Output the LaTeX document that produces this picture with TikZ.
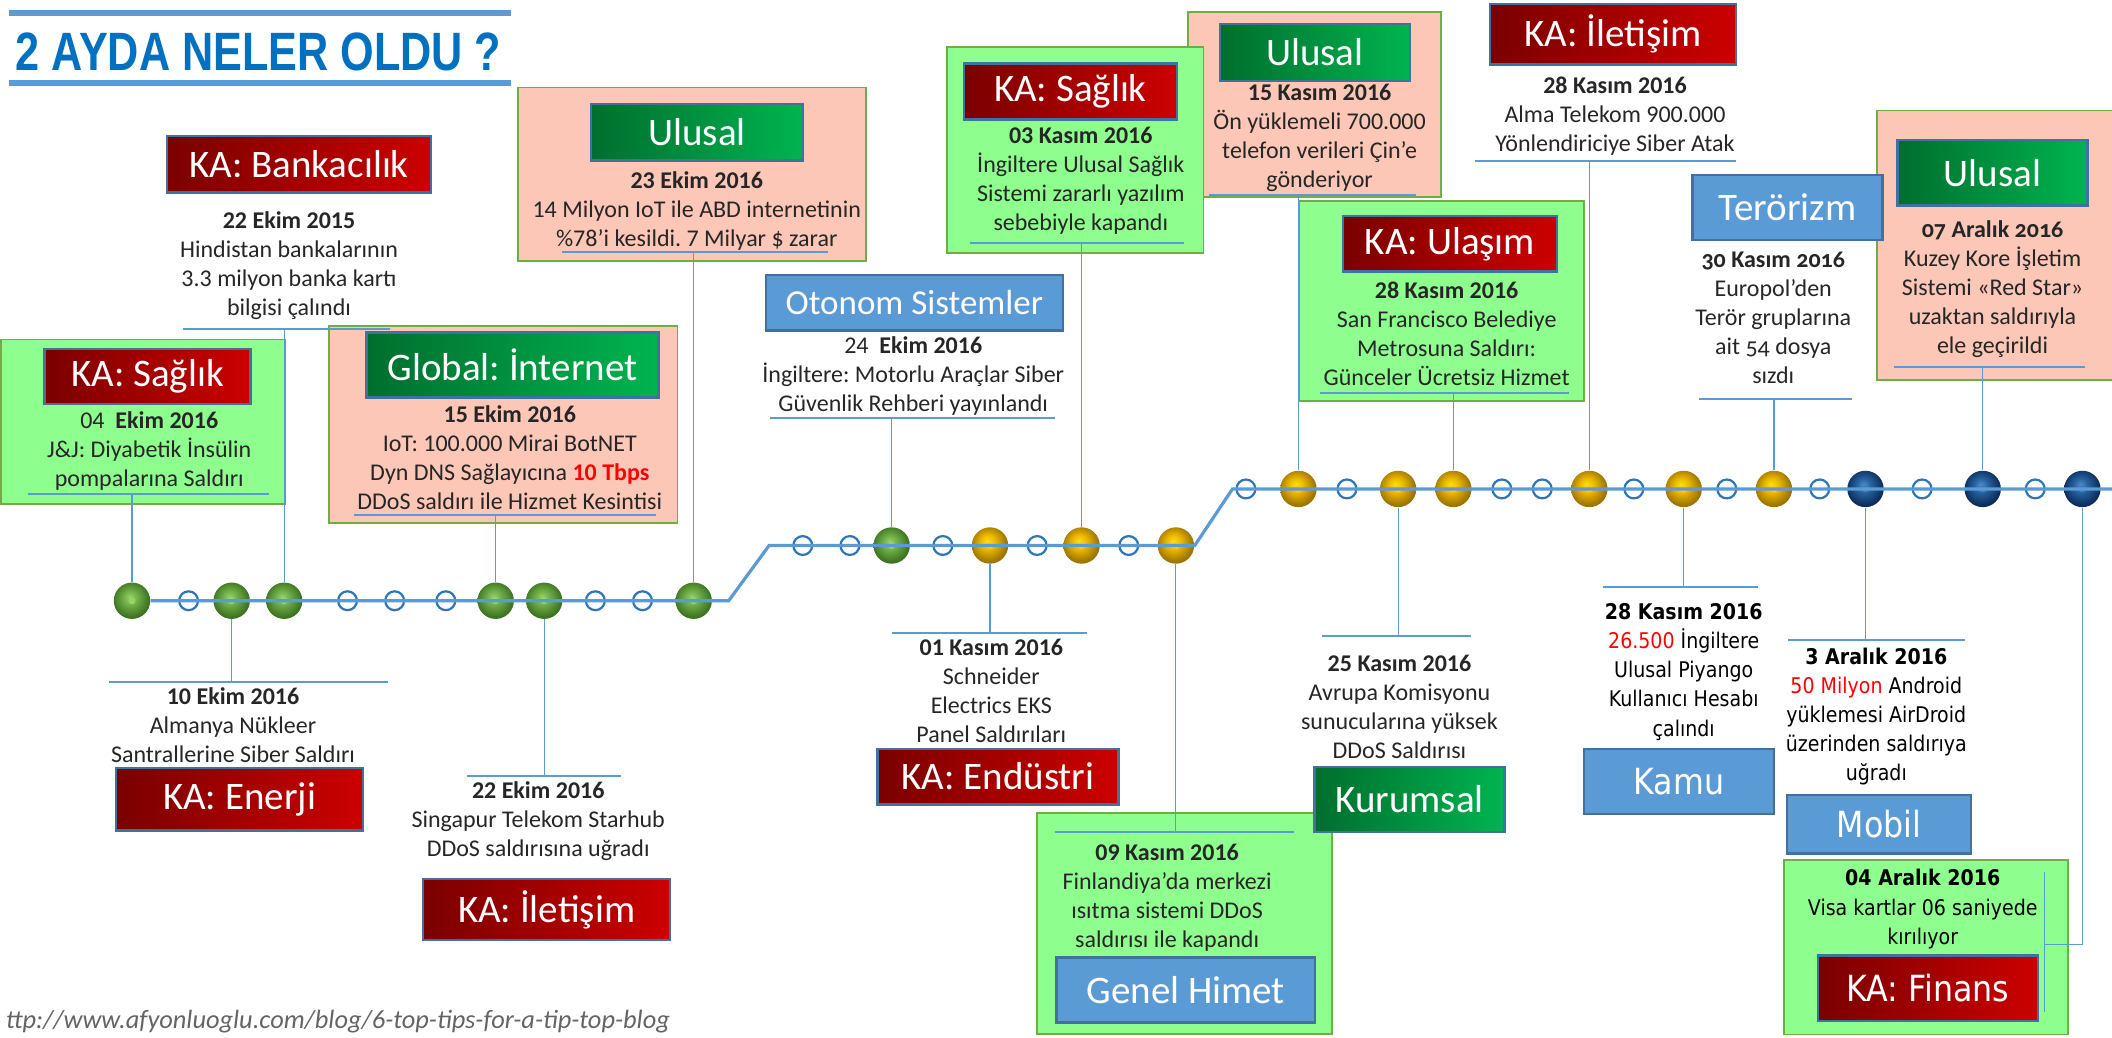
\documentclass[tikz,border=0pt]{standalone}
\usepackage{fontspec}
\setmainfont{Carlito}
\newfontfamily\titlefont[FakeStretch=0.8]{Liberation Sans}
\newfontfamily\tahfont[FakeStretch=0.88]{DejaVu Sans}
\newfontfamily\candfont[Numbers=OldStyle]{Carlito}
\usetikzlibrary{fit}
\frenchspacing

\definecolor{tlblue}{RGB}{91,155,213}
\definecolor{ringblue}{RGB}{46,117,182}
\definecolor{labedge}{RGB}{65,113,156}
\definecolor{kadark}{RGB}{122,0,0}
\definecolor{kalight}{RGB}{204,0,0}
\definecolor{gldark}{RGB}{0,110,46}
\definecolor{gllight}{RGB}{0,180,80}
\definecolor{lightgreen}{RGB}{142,255,142}
\definecolor{salmon}{RGB}{252,199,182}
\definecolor{boxedge}{RGB}{112,173,71}
\definecolor{bodytext}{RGB}{38,38,38}
\definecolor{titleblue}{RGB}{0,112,192}
\definecolor{urlgray}{RGB}{100,100,100}
\definecolor{gdot}{RGB}{150,210,100}
\definecolor{ydot}{RGB}{255,205,0}
\definecolor{bdot}{RGB}{70,120,180}

\pgfdeclareradialshading{greenball}{\pgfpoint{-3bp}{5bp}}{rgb(0bp)=(0.6,0.82,0.42); rgb(9bp)=(0.45,0.7,0.28); rgb(25bp)=(0.24,0.45,0.13); rgb(50bp)=(0.24,0.45,0.13)}
\pgfdeclareradialshading{goldball}{\pgfpoint{-4bp}{6bp}}{rgb(0bp)=(1,0.87,0.1); rgb(10bp)=(0.93,0.72,0); rgb(25bp)=(0.62,0.46,0); rgb(50bp)=(0.62,0.46,0)}
\pgfdeclareradialshading{blueball}{\pgfpoint{-3bp}{6bp}}{rgb(0bp)=(0.3,0.55,0.8); rgb(10bp)=(0.15,0.38,0.62); rgb(25bp)=(0.05,0.18,0.36); rgb(50bp)=(0.05,0.18,0.36)}

\newlength\pxl
\setlength\pxl{0.6735pt}

\tikzset{
  tline/.style={draw=tlblue, line width=1.6pt},
  conn/.style={draw=tlblue, line width=0.6pt},
  uline/.style={draw=tlblue, line width=1pt},
  titlerule/.style={draw=tlblue, line width=3pt},
  ball/.style 2 args={circle, inner sep=0pt, minimum size=27*\pxl, shade, shading=#1,
    path picture={\fill[#2] (path picture bounding box.center) circle (1.8pt);}},
  gb/.style={ball={greenball}{gdot}},
  yb/.style={ball={goldball}{ydot}},
  bb/.style={ball={blueball}{bdot}},
  hc/.style={circle, inner sep=0pt, minimum size=14*\pxl, draw=ringblue, line width=1.1pt, fill=white},
  card/.style={draw=boxedge, line width=0.9pt, inner sep=0pt},
  gbox/.style={card, fill=lightgreen},
  sbox/.style={card, fill=salmon},
  boxsize/.style 2 args={minimum width=#1*\pxl, minimum height=#2*\pxl},
  lab/.style={draw=labedge, line width=1.2pt, inner sep=0pt, text=white, font=\fontsize{19.5}{22}\selectfont},
  redlab/.style={lab, left color=kadark, right color=kalight},
  greenlab/.style={lab, left color=gldark, right color=gllight},
  bluelab/.style={lab, fill=tlblue},
  tahlab/.style={font=\tahfont\fontsize{18}{21}\selectfont},
  txt/.style={align=center, inner sep=0pt, text=bodytext, font=\fontsize{12}{14.5}\selectfont},
  candtxt/.style={txt, font=\candfont\fontsize{12}{14.5}\selectfont},
  tahtxt/.style={txt, text=black, font=\tahfont\fontsize{10.8}{14.6}\selectfont}
}

\begin{document}
\begin{tikzpicture}[x=\pxl, y=-\pxl]
\useasboundingbox (0,0) rectangle (1568,770);

\draw[titlerule] (6.6,9.7) -- (379.6,9.7);
\draw[titlerule] (6.6,61.3) -- (379.6,61.3);
\node[text=titleblue, anchor=base, inner sep=0pt, font=\titlefont\bfseries\fontsize{27}{30}\selectfont] (title) at (192,52) {2 AYDA NELER OLDU ?};

\node[gbox, fit={(1,252) (211.5,374)}] (b1) {};
\node[sbox, fit={(244.5,242) (503,388)}] (b3) {};
\node[sbox, fit={(384.7,65) (643.2,194)}] (b4) {};
\node[sbox, fit={(882,9.2) (1070,146.5)}] (b7) {};
\node[gbox, fit={(703.3,34.6) (893.5,188)}] (b6) {};
\node[gbox, fit={(964.8,149) (1176,298)}] (b8) {};
\node[sbox, fit={(1393.3,82) (1572,282)}] (b11) {};
\node[gbox, fit={(770,603.7) (989,767.5)}] (b15) {};
\node[gbox, fit={(1324.3,638.3) (1535.3,768)}] (bf) {};

\node[redlab, boxsize={153}{41}] (l1) at (109.5,279.5) {KA: Sağlık};
\node[redlab, boxsize={196}{42}] (l2) at (222,122) {KA: Bankacılık};
\node[greenlab, boxsize={217}{48}] (l3) at (380.5,271) {Global: İnternet};
\node[greenlab, boxsize={157.7}{41.9}] (l4) at (517.45,98.35) {Ulusal};
\node[bluelab, boxsize={220.3}{41.5}, font=\fontsize{17.5}{20}\selectfont] (l5) at (678.85,224.75) {Otonom Sistemler};
\node[redlab, boxsize={158.1}{41.6}] (l6) at (794.65,67.8) {KA: Sağlık};
\node[greenlab, boxsize={140.9}{42}] (l7) at (976.25,39) {Ulusal};
\node[redlab, boxsize={159}{41.3}] (l8) at (1076.5,181.05) {KA: Ulaşım};
\node[redlab, boxsize={183}{45}] (l9) at (1197.5,25.5) {KA: İletişim};
\node[bluelab, boxsize={141.1}{48}] (l10) at (1327.05,154) {Terörizm};
\node[greenlab, boxsize={141.2}{48.7}] (l11) at (1479.2,128.35) {Ulusal};
\node[redlab, boxsize={183.7}{46.7}] (l12) at (177.85,593.35) {KA: Enerji};
\node[redlab, boxsize={183.6}{45.4}] (l13) at (405.8,675.3) {KA: İletişim};
\node[redlab, boxsize={178.7}{41.3}] (l14) at (740.95,576.55) {KA: Endüstri};
\node[bluelab, boxsize={192}{48}] (l15) at (880.3,735) {Genel Himet};
\node[greenlab, boxsize={141}{48.3}] (l16) at (1046.5,593.55) {Kurumsal};
\node[bluelab, tahlab, boxsize={141.1}{48.2}] (lk) at (1246.45,580.3) {Kamu};
\node[bluelab, tahlab, boxsize={136.8}{43.6}] (lm) at (1395,611.8) {Mobil};
\node[redlab, tahlab, boxsize={163.2}{48.5}] (lf) at (1431.4,733.75) {KA: Finans};

\node[txt] (t1) at (110.8,334.5) {04\ \ \textbf{Ekim 2016}\\J\&J: Diyabetik İnsülin\\pompalarına Saldırı};
\node[txt] (t2) at (214.6,197.3) {\textbf{22 Ekim 2015}\\Hindistan bankalarının\\3.3 milyon banka kartı\\bilgisi çalındı};
\node[txt] (t3) at (378.5,340) {\textbf{15 Ekim 2016}\\IoT: 100.000 Mirai BotNET\\Dyn DNS Sağlayıcına \textcolor{red}{\textbf{10 Tbps}}\\DDoS saldırı ile Hizmet Kesintisi};
\node[txt] (t4) at (517.3,156.4) {\textbf{23 Ekim 2016}\\14 Milyon IoT ile ABD internetinin\\\%78’i kesildi. 7 Milyar \$ zarar};
\node[txt] (t5) at (678,279.5) {24\ \ \textbf{Ekim 2016}\\İngiltere: Motorlu Araçlar Siber\\Güvenlik Rehberi yayınlandı};
\node[txt] (t6) at (802.4,134.5) {\textbf{03 Kasım 2016}\\İngiltere Ulusal Sağlık\\Sistemi zararlı yazılım\\sebebiyle kapandı};
\node[txt] (t7) at (979.7,102) {\textbf{15 Kasım 2016}\\Ön yüklemeli 700.000\\telefon verileri Çin’e\\gönderiyor};
\node[txt] (t8) at (1074,247.5) {\textbf{28 Kasım 2016}\\San Francisco Belediye\\Metrosuna Saldırı:\\Günceler Ücretsiz Hizmet};
\node[txt] (t9) at (1199,86.5) {\textbf{28 Kasım 2016}\\Alma Telekom 900.000\\Yönlendiriciye Siber Atak};
\node[candtxt] (t10) at (1316.5,236) {\textbf{30 Kasım 2016}\\Europol’den\\Terör gruplarına\\ait 54 dosya\\sızdı};
\node[candtxt] (t11) at (1479.3,214.8) {\textbf{07 Aralık 2016}\\Kuzey Kore İşletim\\Sistemi «Red Star»\\uzaktan saldırıyla\\ele geçirildi};
\node[txt] (t12) at (173,538.7) {\textbf{10 Ekim 2016}\\Almanya Nükleer\\Santrallerine Siber Saldırı};
\node[txt] (t13) at (399.6,609.8) {\textbf{22 Ekim 2016}\\Singapur Telekom Starhub\\DDoS saldırısına uğradı};
\node[txt] (t14) at (736,513) {\textbf{01 Kasım 2016}\\Schneider\\Electrics EKS\\Panel Saldırıları};
\node[txt] (t15) at (866.5,666.5) {\textbf{09 Kasım 2016}\\Finlandiya’da merkezi\\ısıtma sistemi DDoS\\saldırısı ile kapandı};
\node[txt] (t16) at (1039,525) {\textbf{25 Kasım 2016}\\Avrupa Komisyonu\\sunucularına yüksek\\DDoS Saldırısı};
\node[tahtxt] (tk) at (1250,498.7) {\textbf{28 Kasım 2016}\\\textcolor{red}{26.500} İngiltere\\Ulusal Piyango\\Kullanıcı Hesabı\\çalındı};
\node[tahtxt] (tm) at (1393,532) {\textbf{3 Aralık 2016}\\\textcolor{red}{50 Milyon} Android\\yüklemesi AirDroid\\üzerinden saldırıya\\uğradı};
\node[tahtxt] (tf) at (1427.5,675) {\textbf{04 Aralık 2016}\\Visa kartlar 06 saniyede\\kırılıyor};

\node[anchor=west, inner sep=0pt, text=urlgray, font=\itshape\fontsize{13.2}{15}\selectfont] (url) at (4,758.6) {ttp://www.afyonluoglu.com/blog/6-top-tips-for-a-tip-top-blog};

\foreach \e/\xa/\xb/\y in {1/21/199.5/367, 2/136/289.5/244.3, 3/262.6/487/382, 4/417.3/614.8/187.3,
  5/571.6/783/310.6, 6/720/879/180.7, 7/897.9/1051/144.8, 8/980/1165/292, 9/1095/1289/119.5,
  10/1261.4/1375/296, 11/1406/1548.3/272.7, 12/81/288/506.5, 13/347/461/576, 14/662/807/469.6,
  15/783/961/617.6, 16/981.4/1092/472, k/1190.4/1305/436, m/1327.5/1458.5/475.3}
{
  \coordinate (u\e-l) at (\xa,\y);
  \coordinate (u\e-r) at (\xb,\y);
  \draw[uline] (u\e-l) -- (u\e-r);
}
\coordinate (uf-t) at (1517.9,647.6);
\coordinate (uf-m) at (1517.9,701);
\coordinate (uf-b) at (1517.9,751);
\draw[conn] (uf-t) -- (uf-b);

\foreach \n/\x/\y/\st in {1/98/446/gb, 2/140/446/hc, 3/172/446/gb, 4/211/446/gb, 5/258/446/hc,
  6/293/446/hc, 7/331/446/hc, 8/368/446/gb, 9/404/446/gb, 10/442/446/hc, 11/477/446/hc, 12/515/446/gb,
  13/596/405/hc, 14/631/405/hc, 15/662/405/gb, 16/700/405/hc, 17/735/405/yb, 18/770/405/hc,
  19/803/405/yb, 20/838/405/hc, 21/873/405/yb,
  22/925/363/hc, 23/964/363/yb, 24/1000/363/hc, 25/1038/363/yb, 26/1079/363/yb, 27/1115/363/hc,
  28/1145/363/hc, 29/1180/363/yb, 30/1213/363/hc, 31/1250/363/yb, 32/1282/363/hc, 33/1317/363/yb,
  34/1351/363/hc, 35/1385/363/bb, 36/1427/363/hc, 37/1472/363/bb, 38/1511/363/hc, 39/1546/363/bb}
  \node[\st] (s\n) at (\x,\y) {};

\coordinate (k1) at (541,446);
\coordinate (k2) at (571,405);
\coordinate (k3) at (887,405);
\coordinate (k4) at (915,363);
\coordinate (k5) at (1572,363);
\draw[tline] (s1) \foreach \n in {2,...,12}{ -- (s\n)} -- (k1) -- (k2)
  \foreach \n in {13,...,21}{ -- (s\n)} -- (k3) -- (k4)
  \foreach \n in {22,...,39}{ -- (s\n)} -- (k5);

\foreach \n/\e in {1/1, 4/2, 8/3, 12/4, 15/5, 19/6, 23/7, 26/8, 29/9, 33/10, 37/11,
  3/12, 9/13, 17/14, 21/15, 25/16, 31/k, 35/m}
  \draw[conn] (s\n) -- (s\n |- u\e-l);
\draw[conn] (s39) |- (uf-m);
\end{tikzpicture}
\end{document}
